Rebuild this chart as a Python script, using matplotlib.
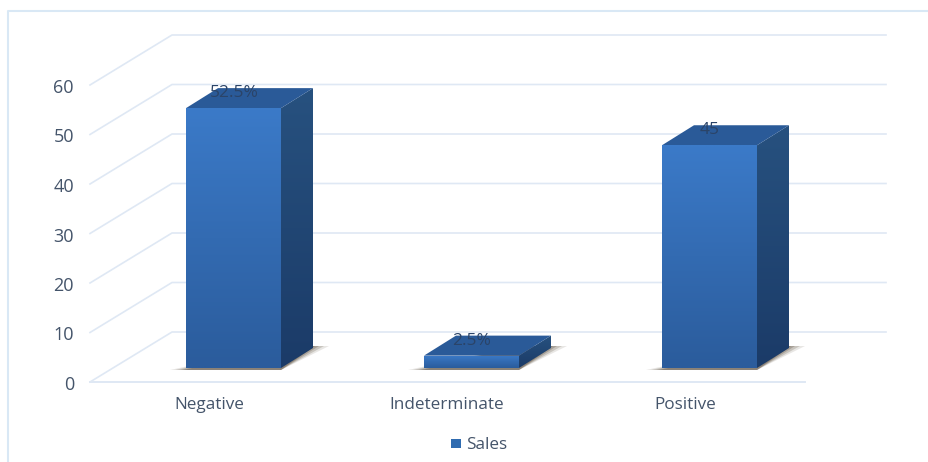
import numpy as np
import matplotlib as mpl
import matplotlib.pyplot as plt
from matplotlib.patches import Polygon, Rectangle

mpl.use('Agg')
plt.rcParams['font.family'] = ['Open Sans', 'DejaVu Sans']

categories = ["Negative", "Indeterminate", "Positive"]
values = [52.5, 2.5, 45]
bar_labels = ["52.5%", "2.5%", "45"]
y_ticks = [0, 10, 20, 30, 40, 50, 60]
series_name = "Sales"

# pixel layout of the fake 3d box
W, H = 929, 462
PX_PER_UNIT = 4.95
FLOOR_FRONT = 382
FLOOR_BACK = 332
LEFT_FRONT = 90
LEFT_BACK = 172
RIGHT_BACK = 886
RIGHT_FRONT = 805
BAR_BASE = 368
BAR_LEFT = [186, 424, 662]
BAR_W = 95
DEPTH_X = 32
DEPTH_Y = 20

TEXT_COL = '#44546a'
GRID_COL = '#dfe8f4'
FRAME_COL = '#d9e8f5'


def gradient_poly(ax, pts, top_col, bottom_col, zorder):
    """Fills a polygon with a vertical gradient, clipped to its outline."""
    pts = np.array(pts, dtype=float)
    c0 = np.array(mpl.colors.to_rgb(top_col))
    c1 = np.array(mpl.colors.to_rgb(bottom_col))
    t = np.linspace(0, 1, 64)[:, None, None]
    img = c0[None, None, :] * (1 - t) + c1[None, None, :] * t
    extent = [pts[:, 0].min(), pts[:, 0].max(), pts[:, 1].max(), pts[:, 1].min()]
    im = ax.imshow(img, extent=extent, aspect='auto', zorder=zorder, interpolation='bilinear')
    clip = Polygon(pts, closed=True, transform=ax.transData, facecolor='none', edgecolor='none')
    ax.add_patch(clip)
    im.set_clip_path(clip)


def draw_box(ax):
    for v in y_ticks:
        h = v * PX_PER_UNIT
        ax.plot([LEFT_FRONT, LEFT_BACK, RIGHT_BACK],
                [FLOOR_FRONT - h, FLOOR_BACK - h, FLOOR_BACK - h],
                color=GRID_COL, lw=1.2, zorder=1)
        ax.text(74, FLOOR_FRONT - h + 3, str(v), ha='right', va='center',
                fontsize=13, color=TEXT_COL, zorder=6)
    ax.plot([LEFT_FRONT, RIGHT_FRONT], [FLOOR_FRONT, FLOOR_FRONT], color=GRID_COL, lw=1.4, zorder=1)


def draw_bar(ax, x, val):
    top = BAR_BASE - val * PX_PER_UNIT
    xr = x + BAR_W
    # soft shadow on the floor
    for grow, alpha in [(16, 0.15), (11, 0.25), (6, 0.35), (2, 0.45)]:
        ax.add_patch(Polygon([(x - grow, BAR_BASE + 2), (xr, BAR_BASE + 2),
                              (xr + DEPTH_X + grow, BAR_BASE - DEPTH_Y - 2),
                              (xr, BAR_BASE - DEPTH_Y - 2)],
                             closed=True, facecolor='#6b5f50', edgecolor='none',
                             alpha=alpha, zorder=2))
    gradient_poly(ax, [(xr, top), (xr + DEPTH_X, top - DEPTH_Y),
                       (xr + DEPTH_X, BAR_BASE - DEPTH_Y), (xr, BAR_BASE)],
                  '#27517f', '#1b3b68', 3)
    ax.add_patch(Polygon([(x, top), (x + DEPTH_X, top - DEPTH_Y),
                          (xr + DEPTH_X, top - DEPTH_Y), (xr, top)],
                         closed=True, facecolor='#2a5a98', edgecolor='none', zorder=3))
    gradient_poly(ax, [(x, top), (xr, top), (xr, BAR_BASE), (x, BAR_BASE)],
                  '#3b7ac8', '#2b5c9c', 4)


fig = plt.figure(figsize=(W / 100, H / 100), dpi=100)
ax = fig.add_axes([0, 0, 1, 1])

draw_box(ax)
for x, val in zip(BAR_LEFT, values):
    draw_bar(ax, x, val)

for x, val, lab, cat in zip(BAR_LEFT, values, bar_labels, categories):
    top = BAR_BASE - val * PX_PER_UNIT
    ax.text(x + 48, top - 15, lab, ha='center', va='center', fontsize=12.5,
            color='#2b4468', zorder=7)
    ax.text(x + 23, 405, cat, ha='center', va='center', fontsize=12.3,
            color=TEXT_COL, zorder=6)

# legend
ax.add_patch(Rectangle((451, 439), 10, 9, facecolor='#2f6bb0', edgecolor='none', zorder=6))
ax.text(466, 445, series_name, ha='left', va='center', fontsize=12.3, color=TEXT_COL, zorder=6)

# chart frame, cut off by the picture on the right and bottom
ax.plot([8, 8, W], [H, 11, 11], color=FRAME_COL, lw=1.5, zorder=0)

ax.set_xlim(0, W)
ax.set_ylim(H, 0)
ax.axis('off')
fig.savefig('out.png', dpi=100, facecolor='white')
plt.close(fig)
